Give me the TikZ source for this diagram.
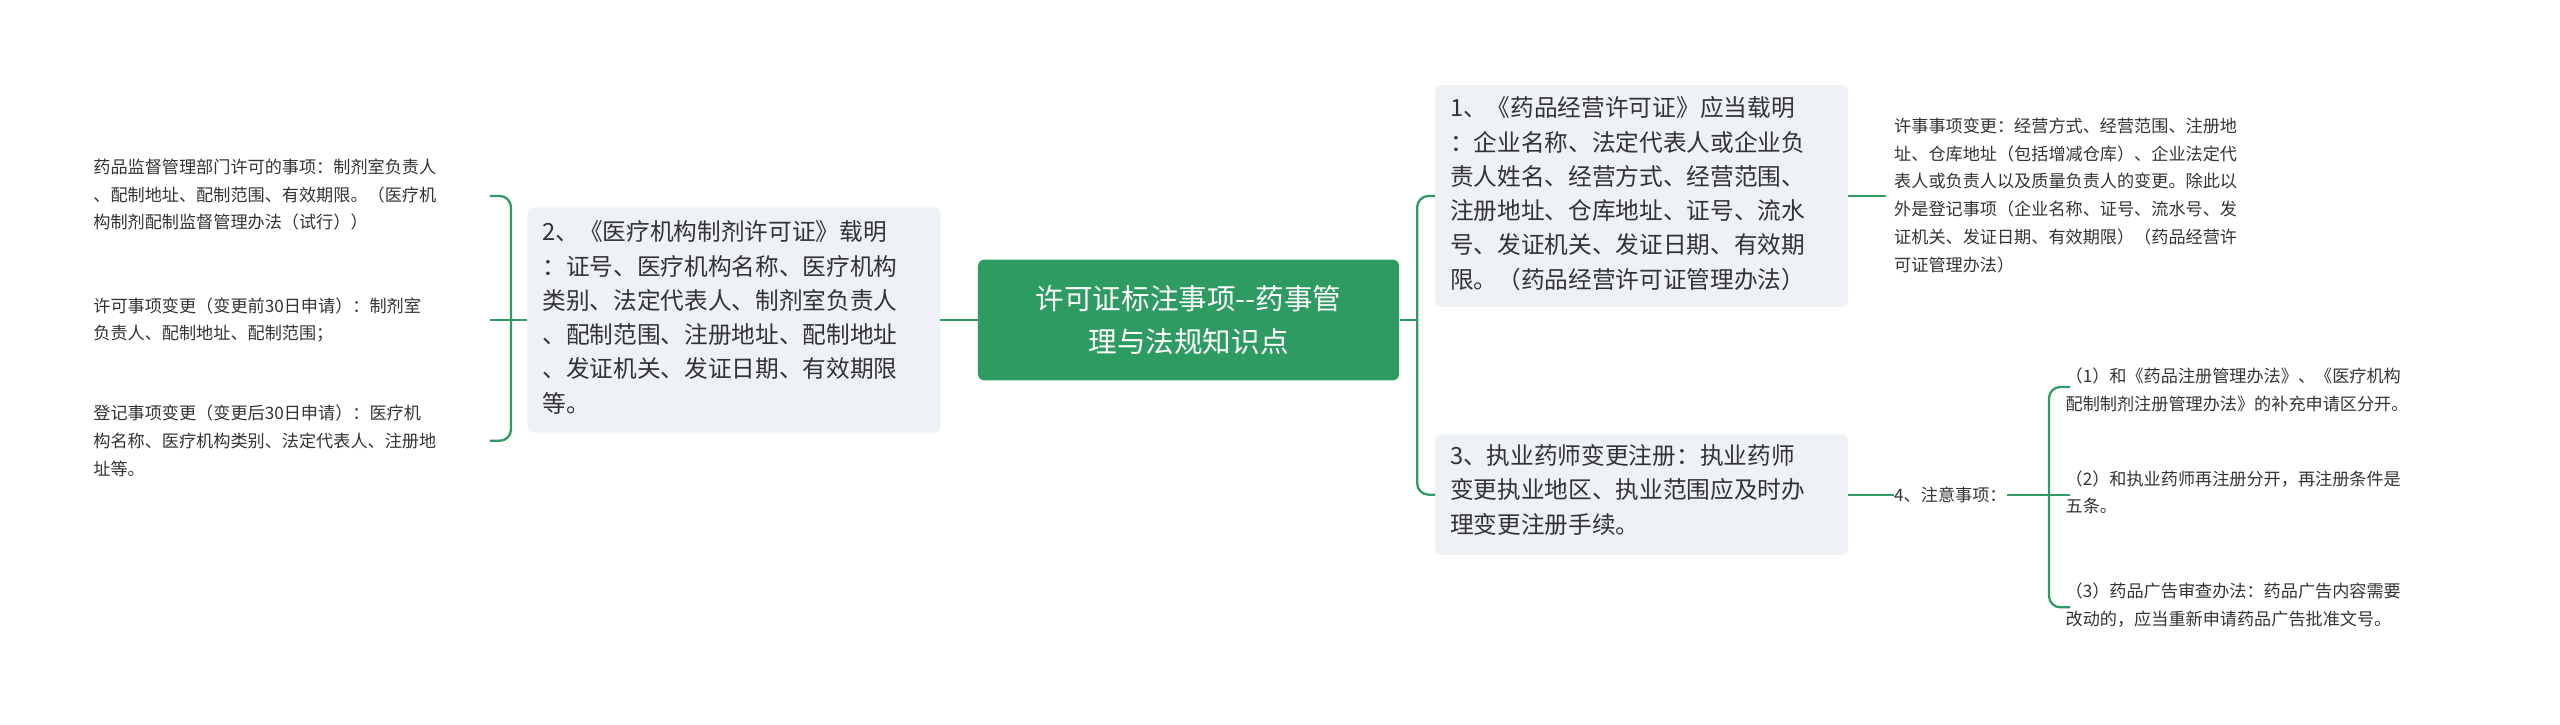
\documentclass[tikz,border=0pt]{standalone}
\usepackage{fontspec}
\newfontfamily\cjk{Noto Sans CJK SC}
\definecolor{gr}{HTML}{2E9B62}
\definecolor{bx}{HTML}{EEF1F5}
\definecolor{tx}{HTML}{333333}
\begin{document}
\begin{tikzpicture}[x=1pt,y=-1pt,
 box/.style={fill=bx,rounded corners=4pt,inner sep=0pt},
 mtxt/.style={anchor=north west,align=left,inner sep=0pt,font=\cjk\fontsize{14.5}{21}\selectfont,text=tx},
 ltxt/.style={anchor=north west,align=left,inner sep=0pt,font=\cjk\fontsize{10.5}{17}\selectfont,text=tx},
 con/.style={draw=gr,line width=1.4pt,rounded corners=7pt}]
\useasboundingbox (0,0) rectangle (1568,444);
% center
\node[fill=gr,rounded corners=4pt,minimum width=258pt,minimum height=74pt,text=white,align=center,font=\cjk\fontsize{17.5}{26}\selectfont] (c) at (728,196) {许可证标注事项--药事管\\理与法规知识点};
% left box
\fill[bx,rounded corners=4pt] (323,127) rectangle (576,265);
\node[mtxt] (L) at (332,135) {2、《医疗机构制剂许可证》载明\\：证号、医疗机构名称、医疗机构\\类别、法定代表人、制剂室负责人\\、配制范围、注册地址、配制地址\\、发证机关、发证日期、有效期限\\等。};
\coordinate (Lw) at (323,196);
\coordinate (Le) at (576,196);
% left leaves
\node[ltxt] (a1) at (57,97) {药品监督管理部门许可的事项：制剂室负责人\\、配制地址、配制范围、有效期限。（医疗机\\构制剂配制监督管理办法（试行））};
\node[ltxt] (a2) at (57,182) {许可事项变更（变更前30日申请）：制剂室\\负责人、配制地址、配制范围；};
\node[ltxt] (a3) at (57,248) {登记事项变更（变更后30日申请）：医疗机\\构名称、医疗机构类别、法定代表人、注册地\\址等。};
\coordinate (s1) at (300,120);
\coordinate (s2) at (300,196);
\coordinate (s3) at (300,270);
\draw[con] (c.west) -- (Le);
\draw[con] (Lw) -- (313,196);
\draw[con] (s1) -- (313,120) -- (313,270) -- (s3);
\draw[con] (313,196) -- (s2);
% right box 1
\fill[bx,rounded corners=4pt] (879,52) rectangle (1132,188);
\node[mtxt] (R1) at (888,59) {1、《药品经营许可证》应当载明\\：企业名称、法定代表人或企业负\\责人姓名、经营方式、经营范围、\\注册地址、仓库地址、证号、流水\\号、发证机关、发证日期、有效期\\限。（药品经营许可证管理办法）};
\coordinate (R1w) at (879,120);
\coordinate (R1e) at (1132,120);
% right box 3
\fill[bx,rounded corners=4pt] (879,266) rectangle (1132,340);
\node[mtxt] (R3) at (888,272) {3、执业药师变更注册：执业药师\\变更执业地区、执业范围应及时办\\理变更注册手续。};
\coordinate (R3w) at (879,303);
\coordinate (R3e) at (1132,303);
\draw[con] (c.east) -- (868,196);
\draw[con] (R1w) -- (868,120) -- (868,303) -- (R3w);
% leaf of R1
\node[ltxt] (b1) at (1160,72) {许事事项变更：经营方式、经营范围、注册地\\址、仓库地址（包括增减仓库）、企业法定代\\表人或负责人以及质量负责人的变更。除此以\\外是登记事项（企业名称、证号、流水号、发\\证机关、发证日期、有效期限）（药品经营许\\可证管理办法）};
\coordinate (b1w) at (1155,120);
\draw[con] (R1e) -- (b1w);
% 4
\node[ltxt,anchor=west] (n4) at (1160,303) {4、注意事项：};
\draw[con] (R3e) -- (n4.west);
\node[ltxt] (d1) at (1265,225) {（1）和《药品注册管理办法》、《医疗机构\\配制制剂注册管理办法》的补充申请区分开。};
\node[ltxt] (d2) at (1265,288) {（2）和执业药师再注册分开，再注册条件是\\五条。};
\node[ltxt] (d3) at (1265,357) {（3）药品广告审查办法：药品广告内容需要\\改动的，应当重新申请药品广告批准文号。};
\coordinate (e1) at (1268,237);
\coordinate (e2) at (1268,303);
\coordinate (e3) at (1268,372);
\draw[con] (n4.east) -- (1255,303);
\draw[con] (e1) -- (1255,237) -- (1255,372) -- (e3);
\draw[con] (1255,303) -- (e2);
\end{tikzpicture}
\end{document}
